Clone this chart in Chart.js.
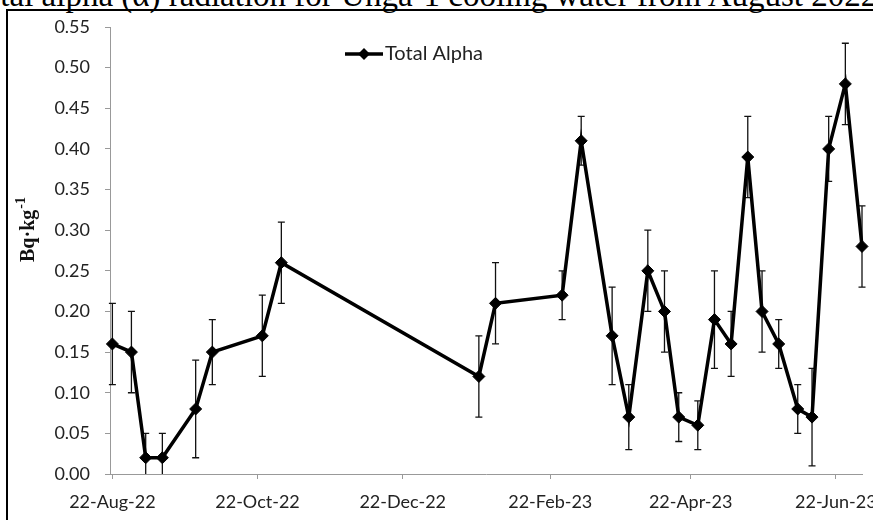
<!DOCTYPE html>
<html>
<head>
<meta charset="utf-8">
<script src="https://cdn.jsdelivr.net/npm/chart.js@4.4.1/dist/chart.umd.min.js"></script>
<style>
  html, body { margin:0; padding:0; background:#fff; }
  #wrap { position:relative; width:873px; height:520px; overflow:hidden; background:#fff; }
  #title { position:absolute; left:-34px; top:-21px; white-space:nowrap; font-family:'Liberation Serif', serif; font-size:33px; line-height:33px; color:#000; }
  #frame { position:absolute; left:6px; top:9px; width:1000px; height:1000px; border:2px solid #000; }
  #c { position:absolute; left:0; top:0; }
</style>
</head>
<body>
<div id="wrap">
  <div id="title">Total alpha (α) radiation for Unga-1 cooling water from August 2022 to July 2023</div>
  <div id="frame"></div>
  <canvas id="c" width="920" height="520"></canvas>
</div>
<script>
// sampling dates, measured values and their uncertainty (Bq/kg)
const sampleDates = ['2022-08-22','2022-08-30','2022-09-05','2022-09-12','2022-09-26','2022-10-03','2022-10-24','2022-11-01',
  '2023-01-23','2023-01-30','2023-02-27','2023-03-07','2023-03-20','2023-03-27','2023-04-04','2023-04-11','2023-04-17',
  '2023-04-25','2023-05-02','2023-05-09','2023-05-16','2023-05-22','2023-05-29','2023-06-06','2023-06-12','2023-06-19',
  '2023-06-26','2023-07-03'];
const totalAlpha = [0.16,0.15,0.02,0.02,0.08,0.15,0.17,0.26,
  0.12,0.21,0.22,0.41,0.17,0.07,0.25,0.20,0.07,
  0.06,0.19,0.16,0.39,0.20,0.16,0.08,0.07,0.40,
  0.48,0.28];
const alphaErr = [0.05,0.05,0.03,0.03,0.06,0.04,0.05,0.05,
  0.05,0.05,0.03,0.03,0.06,0.04,0.05,0.05,0.03,
  0.03,0.06,0.04,0.05,0.05,0.03,0.03,0.06,0.04,
  0.05,0.05];
const tickDates = ['2022-08-22','2022-10-22','2022-12-22','2023-02-22','2023-04-22','2023-06-22'];
const tickLabels = ['22-Aug-22','22-Oct-22','22-Dec-22','22-Feb-23','22-Apr-23','22-Jun-23'];
const axisStart = '2022-08-21', axisEnd = '2023-07-03';
const seriesName = 'Total Alpha';
const yTitle = 'Bq·kg', yTitleSup = '-1';

const toDay = s => { const [y,m,d] = s.split('-').map(Number); return Date.UTC(y, m-1, d) / 864e5; };
const INK = '#222';

const errorBars = {
  id: 'errorBars',
  beforeDatasetsDraw(chart) {
    const {ctx, scales:{x, y}, chartArea} = chart;
    ctx.save();
    ctx.strokeStyle = '#111'; ctx.lineWidth = 1.3;
    sampleDates.forEach((d, i) => {
      const px = x.getPixelForValue(toDay(d));
      const lo = Math.max(0, totalAlpha[i] - alphaErr[i]);
      const yTop = y.getPixelForValue(totalAlpha[i] + alphaErr[i]);
      const yBot = y.getPixelForValue(lo);
      ctx.beginPath();
      ctx.moveTo(px, yTop); ctx.lineTo(px, yBot);
      ctx.moveTo(px-3.5, yTop); ctx.lineTo(px+3.5, yTop);
      if (yBot < chartArea.bottom - 1) { ctx.moveTo(px-3.5, yBot); ctx.lineTo(px+3.5, yBot); }
      ctx.stroke();
    });
    ctx.restore();
  }
};

// legend inside the plot and the rotated unit label with a real superscript
const extras = {
  id: 'extras',
  afterDraw(chart) {
    const {ctx} = chart;
    const lx = 345, ly = 54;
    ctx.save();
    ctx.strokeStyle = '#000'; ctx.lineWidth = 3.5;
    ctx.beginPath(); ctx.moveTo(lx, ly); ctx.lineTo(lx+38, ly); ctx.stroke();
    ctx.fillStyle = '#000';
    ctx.beginPath(); ctx.moveTo(lx+13, ly); ctx.lineTo(lx+19, ly-6); ctx.lineTo(lx+25, ly); ctx.lineTo(lx+19, ly+6); ctx.closePath(); ctx.fill();
    ctx.font = "20px Lato"; ctx.fillStyle = INK; ctx.textBaseline = 'middle';
    ctx.fillText(seriesName, lx+40, ly);
    ctx.restore();

    ctx.save();
    ctx.translate(34, 262); ctx.rotate(-Math.PI/2);
    ctx.fillStyle = '#111'; ctx.textBaseline = 'alphabetic';
    ctx.font = "bold 20px 'Liberation Serif'";
    ctx.fillText(yTitle, 0, 0);
    const w = ctx.measureText(yTitle).width;
    ctx.font = "bold 14px 'Liberation Serif'";
    ctx.fillText(yTitleSup, w + 1, -9);
    ctx.restore();
  }
};

new Chart(document.getElementById('c'), {
  type: 'line',
  data: {
    datasets: [{
      label: seriesName,
      data: sampleDates.map((d, i) => ({ x: toDay(d), y: totalAlpha[i] })),
      borderColor: '#000', borderWidth: 3.5, tension: 0, clip: false,
      pointStyle: 'rectRot', pointRadius: 6, pointBackgroundColor: '#000', pointBorderColor: '#000', pointBorderWidth: 1
    }]
  },
  options: {
    responsive: false, animation: false, devicePixelRatio: 1,
    layout: { padding: { top: 27, right: 58, bottom: 0, left: 0 } },
    plugins: { legend: { display: false }, tooltip: { enabled: false } },
    scales: {
      x: {
        type: 'linear', min: toDay(axisStart), max: toDay(axisEnd),
        afterFit(s) { s.height = 46; },
        afterBuildTicks(s) { s.ticks = tickDates.map(d => ({ value: toDay(d) })); },
        grid: { drawOnChartArea: false, tickLength: 5, color: '#999' },
        border: { color: '#999' },
        ticks: { autoSkip: false, maxRotation: 0, padding: 12, color: INK, font: { family: 'Lato', size: 18 },
          callback: (v, i) => tickLabels[i] }
      },
      y: {
        min: 0, max: 0.55,
        afterFit(s) { s.width = 110; },
        grid: { drawOnChartArea: false, tickLength: 5, color: '#999' },
        border: { color: '#999' },
        ticks: { stepSize: 0.05, padding: 15, color: INK, font: { family: 'Lato', size: 18 },
          callback: v => v.toFixed(2) }
      }
    }
  },
  plugins: [errorBars, extras]
});
</script>
</body>
</html>
